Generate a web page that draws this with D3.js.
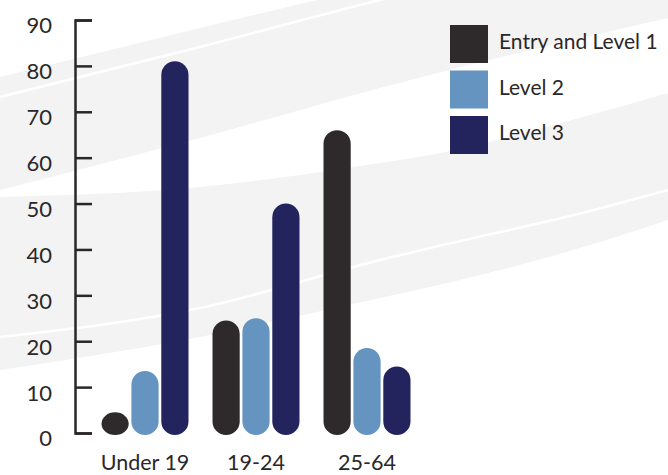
<!DOCTYPE html>
<html>
<head>
<meta charset="utf-8">
<script src="https://cdn.jsdelivr.net/npm/d3@7"></script>
<style>
    body { margin: 0; background: #fff; }
    svg { display: block; }
    .tick text, .xlab, .legtext { font-family: Lato, "Open Sans", sans-serif; fill: #2b2728; }
</style>
</head>
<body>
<div class="chartdiv"></div>
<script>
// chart data
let groups = ['Under 19', '19-24', '25-64']
let seriesNames = ['Entry and Level 1', 'Level 2', 'Level 3']
let entryLevel1 = [4.5, 24.5, 66]
let level2 = [13.5, 25, 18.5]
let level3 = [81, 50, 14.5]
let yTicks = [0, 10, 20, 30, 40, 50, 60, 70, 80, 90]
let colors = ['#2e2a2b', '#6594c0', '#23245e']

// decorative background swooshes (pixel guides, not data)
let swX = [0, 200, 380, 430, 590, 668]
let bandTop = { top: [77, 28, -15, -27, -70, -90], bottom: [190, 138, 88, 75, 36, 18], line: [97, 47, 0, -12, -50, -70] }
let bandMid = { top: [197, 187, 163, 155, 115, 93], bottom: [370, 337, 298, 287, 245, 220], line: [337, 308, 260, 248, 211, 190] }

let w = 668, h = 475
let svg = d3.select('.chartdiv').append('svg')
    .attr('width', w)
    .attr('height', h)

// background bands
let bg = svg.append('g').attr('class', 'bg')
;[bandTop, bandMid].forEach(b => {
    let pts = swX.map((x, i) => ({ x: x, y0: b.top[i], y1: b.bottom[i], l: b.line[i] }))
    let area = d3.area().x(d => d.x).y0(d => d.y0).y1(d => d.y1).curve(d3.curveMonotoneX)
    bg.append('path').attr('d', area(pts)).attr('fill', '#f3f3f3')
    let ln = d3.line().x(d => d.x).y(d => d.l).curve(d3.curveMonotoneX)
    bg.append('path').attr('d', ln(pts)).attr('fill', 'none')
        .attr('stroke', '#fff').attr('stroke-width', 2.5)
})

// scales
let yScale = d3.scaleLinear().domain([0, 90]).range([433, 20])
let x0 = d3.scaleBand().domain(groups).range([89.5, 422.5])
let x1 = d3.scaleBand().domain(seriesNames).range([-43.5, 43.5]).paddingInner(0.09)
let color = d3.scaleOrdinal().domain(seriesNames).range(colors)

let seriesVals = [entryLevel1, level2, level3]
let dataArr = []
groups.forEach((g, gi) => {
    seriesNames.forEach((s, si) => {
        dataArr.push({ group: g, series: s, value: seriesVals[si][gi] })
    })
})

// bars (pill shaped)
let bw = x1.bandwidth()
svg.append('g').attr('class', 'bars')
    .selectAll('rect')
    .data(dataArr)
    .enter()
    .append('rect')
    .attr('x', d => x0(d.group) + x0.bandwidth() / 2 + x1(d.series))
    .attr('y', d => yScale(d.value))
    .attr('width', bw)
    .attr('height', d => yScale(0) + 2 - yScale(d.value))
    .attr('rx', bw / 2)
    .attr('fill', d => color(d.series))

// y axis
let yAxis = d3.axisLeft(yScale)
    .tickValues(yTicks)
    .tickSize(-17)
    .tickPadding(23)
let gy = svg.append('g')
    .attr('class', 'y axis')
    .attr('transform', 'translate(75,0)')
    .call(yAxis)
gy.selectAll('path, line').attr('stroke', '#2b2728').attr('stroke-width', 2.5)
gy.selectAll('text')
    .attr('dy', '0.59em')
    .style('font-size', '22px')

// x labels
svg.append('g').attr('class', 'xlabels')
    .selectAll('text')
    .data(groups)
    .enter()
    .append('text')
    .attr('class', 'xlab')
    .attr('x', d => x0(d) + x0.bandwidth() / 2)
    .attr('y', 470)
    .attr('text-anchor', 'middle')
    .style('font-size', '21.5px')
    .text(d => d)

// legend
let leg = svg.append('g').attr('class', 'legend')
    .attr('transform', 'translate(450,25)')
let items = leg.selectAll('g')
    .data(seriesNames)
    .enter()
    .append('g')
    .attr('transform', (d, i) => 'translate(0,' + (i * 45.5) + ')')
items.append('rect')
    .attr('width', 38)
    .attr('height', 38)
    .attr('fill', d => color(d))
items.append('text')
    .attr('class', 'legtext')
    .attr('x', 49)
    .attr('y', 24)
    .style('font-size', '21px')
    .text(d => d)
</script>
</body>
</html>
